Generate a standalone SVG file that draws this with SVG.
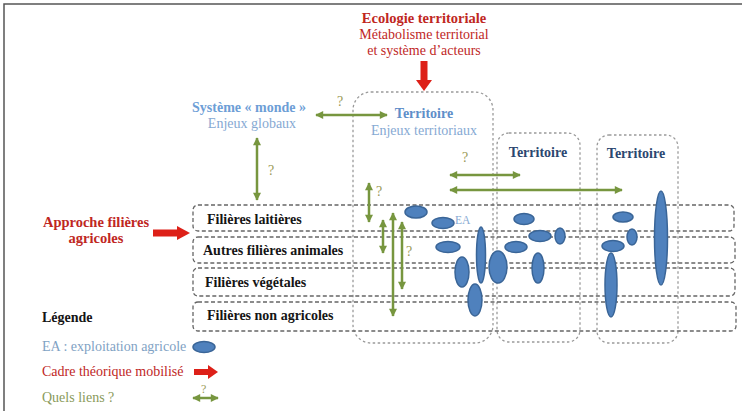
<svg xmlns="http://www.w3.org/2000/svg" width="742" height="411" viewBox="0 0 742 411" font-family="'Liberation Serif', 'DejaVu Serif', serif" font-size="14">
<style>
text{font-family:'Liberation Serif','DejaVu Serif',serif;font-size:14px}
.b{font-weight:bold}
.m{text-anchor:middle}
.red{fill:#c0271f}
.lb{fill:#86a9d3}
.q{fill:#9a9a58}
.blk{fill:#151515}
.row{fill:none;stroke:#666;stroke-width:1.3;stroke-dasharray:4,2.5}
.terr{fill:none;stroke:#9a9a9a;stroke-width:1.3;stroke-dasharray:2.5,2.5}
.ea{fill:#4f81bd;stroke:#3a6597;stroke-width:1.5}
.g{stroke:#77963f;stroke-width:2.5;fill:none;marker-start:url(#ah);marker-end:url(#ah)}
.ra{fill:#dd2018}
</style>
<defs>
<marker id="ah" viewBox="0 0 10 10" refX="9" refY="5" markerWidth="9" markerHeight="8" markerUnits="userSpaceOnUse" orient="auto-start-reverse"><path d="M0,0 L10,5 L0,10 z" fill="#77963f"/></marker>
</defs>
<rect width="742" height="411" fill="#fff"/>
<path d="M4,411 V4 H742" stroke="#555" stroke-width="1.5" fill="none"/>

<g id="territoire-1"><rect class="terr" x="353" y="92" width="140" height="251" rx="18"/>
<text class="b m" x="424" y="118" fill="#5f8fc9">Territoire</text>
<text class="m lb" x="424" y="135">Enjeux territoriaux</text></g>
<g id="territoire-2"><rect class="terr" x="497" y="133" width="83" height="209" rx="12"/>
<text class="b m" x="538" y="157" fill="#2c4770">Territoire</text></g>
<g id="territoire-3"><rect class="terr" x="597" y="135" width="81" height="208" rx="12"/>
<text class="b m" x="636" y="158" fill="#2c4770">Territoire</text></g>

<g id="filiere-laitieres"><rect class="row" x="193" y="205" width="541" height="26" rx="5"/>
<text class="b blk" x="207" y="224">Filières laitières</text></g>
<g id="filiere-animales"><rect class="row" x="193" y="237" width="542" height="26" rx="5"/>
<text class="b blk" x="203" y="255">Autres filières animales</text></g>
<g id="filiere-vegetales"><rect class="row" x="193" y="268" width="542" height="28" rx="5"/>
<text class="b blk" x="205" y="287">Filières végétales</text></g>
<g id="filiere-non-agricoles"><rect class="row" x="193" y="302" width="543" height="29" rx="5"/>
<text class="b blk" x="207" y="320">Filières non agricoles</text></g>

<g id="ecologie"><text class="b m red" x="424" y="23" style="font-size:14.5px">Ecologie territoriale</text>
<text class="m red" x="424" y="39">Métabolisme territorial</text>
<text class="m red" x="424" y="55">et système d’acteurs</text></g>

<g id="systeme-monde"><text class="b m" x="249" y="112" fill="#6d9ed6">Système « monde »</text>
<text class="m lb" x="252" y="128">Enjeux globaux</text></g>

<g id="approche"><text class="b m red" x="96" y="227" style="font-size:14.5px">Approche filières</text>
<text class="b m red" x="96" y="243" style="font-size:14.5px">agricoles</text></g>

<g id="exploitations">
<ellipse class="ea" cx="416" cy="212" rx="11" ry="6"/>
<ellipse class="ea" cx="443" cy="223" rx="11" ry="5.5"/>
<ellipse class="ea" cx="448" cy="247" rx="12" ry="5.5"/>
<ellipse class="ea" cx="481" cy="255" rx="4.5" ry="28"/>
<ellipse class="ea" cx="462" cy="272" rx="7" ry="15"/>
<ellipse class="ea" cx="498" cy="267" rx="9" ry="16"/>
<ellipse class="ea" cx="475" cy="300" rx="7" ry="16"/>
<ellipse class="ea" cx="524" cy="219" rx="10" ry="5.5"/>
<ellipse class="ea" cx="540" cy="236" rx="11" ry="5.5"/>
<ellipse class="ea" cx="560" cy="236" rx="5" ry="8"/>
<ellipse class="ea" cx="516" cy="247" rx="11" ry="5.5"/>
<ellipse class="ea" cx="538" cy="268" rx="6" ry="15"/>
<ellipse class="ea" cx="623" cy="217" rx="10" ry="5"/>
<ellipse class="ea" cx="632" cy="237" rx="5" ry="8"/>
<ellipse class="ea" cx="613" cy="246" rx="11" ry="5.5"/>
<ellipse class="ea" cx="611" cy="285" rx="6" ry="32"/>
<ellipse class="ea" cx="661" cy="238" rx="6.5" ry="47"/>
<text class="lb" x="455" y="224" style="font-size:11.5px">EA</text>
</g>

<g id="connectors">
<rect class="ra" x="420.5" y="61" width="7" height="20"/>
<polygon class="ra" points="416,80 432,80 424,91"/>
<rect class="ra" x="153" y="229.5" width="25" height="7"/>
<polygon class="ra" points="177,226 190,233 177,240"/>
<line class="g" x1="316" y1="115" x2="387" y2="115"/>
<text class="q" x="337" y="106">?</text>
<line class="g" x1="257" y1="138" x2="257" y2="200"/>
<text class="q" x="268" y="175">?</text>
<line class="g" x1="450" y1="175" x2="520" y2="175"/>
<line class="g" x1="450" y1="190" x2="622" y2="190"/>
<text class="q" x="462" y="162">?</text>
<line class="g" x1="369" y1="183" x2="369" y2="222"/>
<text class="q" x="376" y="196">?</text>
<line class="g" x1="383" y1="220" x2="383" y2="253"/>
<line class="g" x1="393" y1="213" x2="393" y2="316"/>
<line class="g" x1="402" y1="222" x2="402" y2="289"/>
<text class="q" x="406" y="256">?</text>
</g>

<g id="legende">
<text class="b blk" x="42" y="322">Légende</text>
<text x="42" y="351" fill="#7fa2c4">EA : exploitation agricole</text>
<ellipse class="ea" cx="204" cy="347" rx="11" ry="5.5"/>
<text class="red" x="42" y="376">Cadre théorique mobilisé</text>
<rect class="ra" x="194" y="369" width="15" height="6"/>
<polygon class="ra" points="208,365 218,372 208,379"/>
<text x="42" y="402" fill="#8a9a5b">Quels liens  ?</text>
<line class="g" x1="193" y1="398" x2="218" y2="398"/>
<text class="q" x="201" y="393" style="font-size:12px">?</text>
</g>
</svg>
